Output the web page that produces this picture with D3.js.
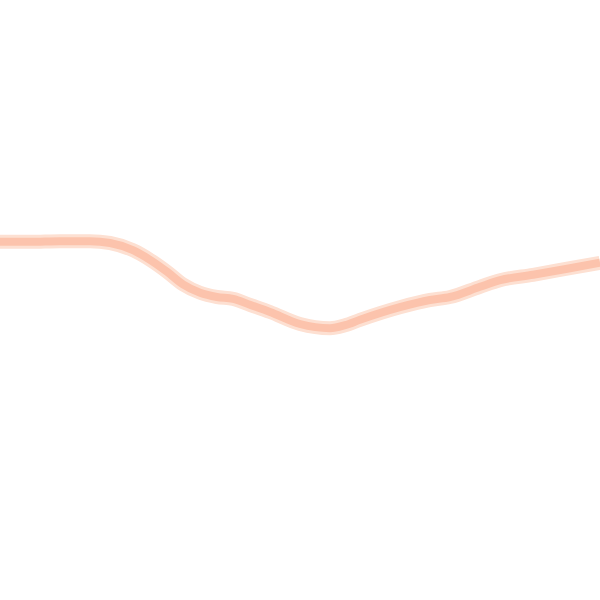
<!DOCTYPE html>
<html>
<head>
<meta charset="utf-8">
<script src="https://cdn.jsdelivr.net/npm/d3@7"></script>
<style>
  body { margin: 0; background: #fff; }
</style>
</head>
<body>
<svg id="chart"></svg>
<script>
// step index along the series and the series values
var steps = [0, 1, 2, 3, 3.67, 4.43, 5, 5.57, 6.1, 6.67, 7.23, 7.77, 8.33, 9, 10, 11, 11.5, 12, 13.33, 14.33, 15, 16, 16.67, 17.77, 19, 20];
var values = [59.7, 59.7, 59.8, 59.8, 59.5, 58.3, 56.7, 54.7, 52.6, 51.2, 50.5, 50.2, 49.2, 48.0, 46.0, 45.3, 45.8, 46.7, 48.8, 50.0, 50.5, 52.2, 53.3, 54.2, 55.3, 56.2];

var width = 600, height = 600;

var svg = d3.select("#chart")
            .attr("width", width)
            .attr("height", height);

var x = d3.scaleLinear()
          .domain([0, 20])
          .range([0, width]);

var y = d3.scaleLinear()
          .domain([0, 100])
          .range([height, 0]);

var data = steps.map((s, i) => ({ step: s, value: values[i] }));

var line = d3.line()
             .x(d => x(d.step))
             .y(d => y(d.value))
             .curve(d3.curveMonotoneX);

// soft outer halo
svg.append("path")
    .datum(data)
    .attr("fill", "none")
    .attr("stroke", "#fde0d2")
    .attr("stroke-width", 14)
    .attr("stroke-linejoin", "round")
    .attr("d", line);

// main line
svg.append("path")
    .datum(data)
    .attr("fill", "none")
    .attr("stroke", "#fcc3ac")
    .attr("stroke-width", 8)
    .attr("stroke-linejoin", "round")
    .attr("d", line);
</script>
</body>
</html>
